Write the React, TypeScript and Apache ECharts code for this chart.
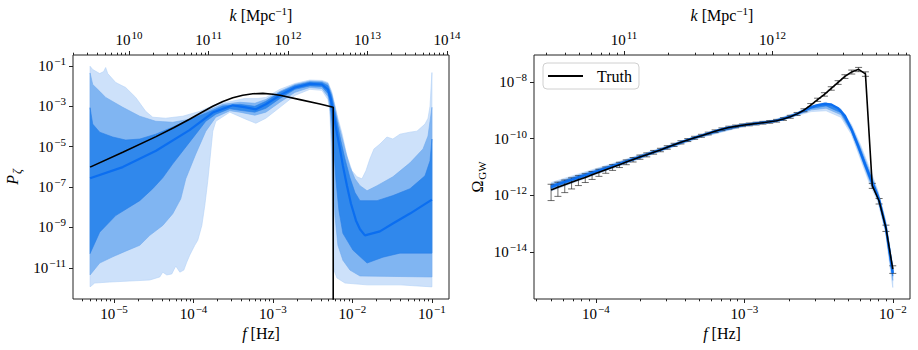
import React, { useEffect, useRef } from 'react';
import * as echarts from 'echarts';

// ================= DATA (all values stored as log10) =================
// k [Mpc^-1] = 6.46e14 * f [Hz]  ->  log10 k = log10 f + 14.81
const LOG_K_PER_F = 14.81;

// ---- Left panel: P_zeta(f) ----
const leftTruthLogF = [-5.301, -4.89, -4.471, -4.25, -4.05, -3.9, -3.757, -3.63, -3.505, -3.38, -3.253, -3.127, -3.0, -2.913, -2.661, -2.409, -2.242, -2.242];
// last value: spectrum drops to zero (off the bottom of the log axis)
const leftTruthLogP = [-6.01, -5.27, -4.5, -4.06, -3.64, -3.31, -3.0, -2.76, -2.58, -2.45, -2.38, -2.36, -2.4, -2.45, -2.67, -2.89, -3.05, -14];

const leftMedianLogF = [-5.301, -4.89, -4.471, -4.05, -3.757, -3.505, -3.341, -3.215, -3.089, -2.913, -2.724, -2.535, -2.384, -2.309, -2.271, -2.233, -2.195, -2.157, -2.12, -2.069, -2.019, -1.956, -1.905, -1.843, -1.654, -1.491, -1.276, -1.0];
const leftMedianLogP = [-6.56, -6.01, -5.2, -4.18, -3.31, -2.95, -3.05, -3.15, -2.9, -2.46, -2.07, -1.89, -1.92, -2.16, -2.66, -3.49, -4.33, -5.11, -5.95, -6.93, -7.81, -8.65, -9.09, -9.39, -9.19, -8.8, -8.31, -7.62];

// 99.7% band
const leftBand3Upper = [[-5.301, -1.02], [-5.268, -1.18], [-5.18, -1.38], [-5.13, -1.28], [-5.105, -1.08], [-5.079, -1.38], [-4.979, -1.82], [-4.853, -2.07], [-4.727, -2.56], [-4.601, -3.25], [-4.513, -3.54], [-4.349, -3.59], [-4.135, -3.49], [-3.921, -3.25], [-3.719, -2.9], [-3.505, -2.74], [-3.354, -2.61], [-3.19, -2.61], [-3.089, -2.56], [-2.913, -2.16], [-2.724, -1.87], [-2.535, -1.7], [-2.384, -1.72], [-2.309, -1.82], [-2.262, -2.26], [-2.22, -2.95], [-2.183, -3.59], [-2.132, -4.33], [-2.069, -5.46], [-2.006, -6.19], [-1.943, -6.49], [-1.88, -6.59], [-1.83, -6.19], [-1.78, -5.6], [-1.729, -5.11], [-1.654, -4.87], [-1.566, -4.52], [-1.491, -4.62], [-1.402, -4.38], [-1.276, -4.28], [-1.188, -4.23], [-1.087, -3.88], [-1.049, -3.59], [-1.024, -3.0], [-1.0, -1.33]];
const leftBand3Lower = [[-5.301, -11.94], [-5.243, -11.75], [-5.054, -11.7], [-4.802, -11.65], [-4.55, -11.6], [-4.424, -11.45], [-4.387, -11.21], [-4.336, -11.35], [-4.273, -11.3], [-4.223, -10.91], [-4.172, -11.21], [-4.122, -11.11], [-4.084, -10.71], [-4.047, -10.37], [-3.984, -9.88], [-3.946, -9.63], [-3.895, -8.9], [-3.858, -7.91], [-3.82, -6.69], [-3.782, -5.21], [-3.757, -4.23], [-3.719, -3.74], [-3.543, -3.29], [-3.341, -3.64], [-3.215, -3.84], [-3.089, -3.59], [-2.913, -3.05], [-2.724, -2.46], [-2.535, -2.16], [-2.384, -2.21], [-2.309, -2.66], [-2.284, -3.25], [-2.264, -5.21], [-2.252, -8.65], [-2.233, -11.11], [-2.195, -11.5], [-2.094, -11.75], [-1.816, -11.84], [-1.402, -11.84], [-1.0, -11.94]];

// 95% band
const leftBand2Upper = [[-5.301, -1.35], [-5.268, -1.92], [-5.18, -2.26], [-5.105, -2.56], [-4.89, -3.05], [-4.676, -3.49], [-4.475, -3.74], [-4.261, -3.79], [-4.047, -3.64], [-3.845, -3.25], [-3.631, -2.9], [-3.417, -2.8], [-3.228, -2.85], [-3.089, -2.66], [-2.913, -2.26], [-2.724, -1.92], [-2.535, -1.75], [-2.384, -1.77], [-2.309, -1.87], [-2.262, -2.36], [-2.22, -3.05], [-2.183, -3.74], [-2.132, -4.52], [-2.082, -5.31], [-2.031, -6.0], [-1.968, -6.59], [-1.905, -6.93], [-1.816, -7.18], [-1.69, -6.93], [-1.491, -6.49], [-1.276, -5.8], [-1.112, -5.11], [-1.049, -4.47], [-1.0, -3.05]];
const leftBand2Lower = [[-5.301, -11.35], [-5.18, -10.76], [-5.016, -10.45], [-4.853, -10.17], [-4.676, -9.88], [-4.55, -9.39], [-4.387, -8.9], [-4.261, -8.32], [-4.16, -7.58], [-4.097, -6.59], [-3.971, -5.36], [-3.845, -4.23], [-3.719, -3.54], [-3.543, -3.22], [-3.417, -3.29], [-3.228, -3.44], [-3.089, -3.29], [-2.913, -2.8], [-2.724, -2.31], [-2.535, -2.07], [-2.384, -2.12], [-2.309, -2.51], [-2.284, -3.0], [-2.258, -4.72], [-2.239, -6.69], [-2.22, -8.41], [-2.183, -9.88], [-2.12, -10.62], [-2.031, -11.11], [-1.905, -11.4], [-1.0, -11.45]];

// 68% band
const leftBand1Upper = [[-5.301, -3.07], [-5.268, -3.88], [-5.18, -4.28], [-5.016, -4.52], [-4.853, -4.67], [-4.676, -4.62], [-4.475, -4.38], [-4.261, -4.03], [-4.047, -3.64], [-3.845, -3.34], [-3.631, -2.98], [-3.417, -2.9], [-3.228, -3.0], [-3.089, -2.75], [-2.913, -2.31], [-2.724, -1.97], [-2.535, -1.8], [-2.384, -1.82], [-2.309, -1.97], [-2.262, -2.46], [-2.22, -3.25], [-2.183, -3.98], [-2.145, -4.72], [-2.094, -5.6], [-2.031, -6.54], [-1.968, -7.27], [-1.905, -7.67], [-1.69, -7.67], [-1.491, -7.42], [-1.276, -7.08], [-1.087, -6.44], [-1.024, -5.7], [-1.0, -4.62]];
const leftBand1Lower = [[-5.301, -10.29], [-5.18, -9.23], [-4.979, -8.41], [-4.676, -7.67], [-4.513, -7.08], [-4.387, -6.54], [-4.261, -5.85], [-4.135, -5.21], [-3.971, -4.38], [-3.845, -3.74], [-3.719, -3.39], [-3.543, -3.12], [-3.417, -3.2], [-3.228, -3.29], [-3.089, -3.1], [-2.913, -2.61], [-2.724, -2.16], [-2.535, -1.99], [-2.384, -2.02], [-2.309, -2.36], [-2.284, -2.75], [-2.258, -3.74], [-2.233, -5.21], [-2.207, -6.69], [-2.17, -8.16], [-2.12, -9.29], [-1.994, -10.12], [-1.816, -10.76], [-1.616, -10.47], [-1.402, -10.27], [-1.0, -10.27]];

// ---- Right panel: Omega_GW(f) ----
const rightLogF = [-4.301, -4.255, -4.209, -4.163, -4.117, -4.071, -4.025, -3.979, -3.933, -3.887, -3.841, -3.795, -3.749, -3.703, -3.657, -3.611, -3.565, -3.519, -3.473, -3.427, -3.381, -3.335, -3.289, -3.243, -3.197, -3.151, -3.105, -3.059, -3.013, -2.967, -2.921, -2.875, -2.829, -2.783, -2.737, -2.691, -2.645, -2.599, -2.553, -2.507, -2.461, -2.415, -2.369, -2.323, -2.277, -2.231, -2.185, -2.139, -2.093, -2.047, -2.001];
const rightTruthLogOmega = [-11.81, -11.72, -11.63, -11.54, -11.45, -11.37, -11.28, -11.19, -11.1, -11.01, -10.92, -10.83, -10.74, -10.65, -10.57, -10.48, -10.4, -10.31, -10.22, -10.13, -10.05, -9.97, -9.9, -9.82, -9.74, -9.67, -9.61, -9.57, -9.53, -9.5, -9.47, -9.44, -9.41, -9.37, -9.31, -9.23, -9.13, -9.0, -8.82, -8.63, -8.44, -8.23, -8.02, -7.81, -7.65, -7.56, -7.72, -11.66, -12.2, -13.15, -14.6];
// relative 1-sigma error of each mock data point
const rightErrRel = [0.58, 0.52, 0.47, 0.42, 0.38, 0.34, 0.31, 0.28, 0.25, 0.23, 0.21, 0.19, 0.18, 0.17, 0.16, 0.15, 0.14, 0.14, 0.13, 0.13, 0.12, 0.12, 0.12, 0.11, 0.11, 0.11, 0.11, 0.11, 0.11, 0.11, 0.11, 0.11, 0.11, 0.11, 0.11, 0.12, 0.12, 0.12, 0.13, 0.13, 0.14, 0.14, 0.15, 0.15, 0.16, 0.17, 0.18, 0.2, 0.22, 0.25, 0.3];
const rightMedianLogOmega = [-11.7, -11.61, -11.53, -11.45, -11.37, -11.29, -11.21, -11.13, -11.05, -10.97, -10.89, -10.81, -10.73, -10.65, -10.57, -10.48, -10.4, -10.31, -10.22, -10.13, -10.05, -9.97, -9.9, -9.82, -9.74, -9.67, -9.61, -9.57, -9.53, -9.5, -9.47, -9.44, -9.41, -9.37, -9.31, -9.23, -9.13, -9.01, -8.9, -8.82, -8.78, -8.8, -8.93, -9.2, -9.7, -10.3, -10.95, -11.55, -12.15, -13.15, -14.75];

const rightBandLogF = [-4.301, -4.1, -3.9, -3.6, -3.3, -3.0, -2.8, -2.65, -2.55, -2.45, -2.35, -2.28, -2.22, -2.16, -2.1, -2.05, -2.001];
const rightBand3Upper = [-11.55, -11.22, -10.9, -10.4, -9.87, -9.47, -9.34, -9.09, -8.84, -8.72, -8.95, -9.5, -10.2, -11.0, -11.85, -12.85, -14.45];
const rightBand3Lower = [-11.85, -11.46, -11.08, -10.52, -9.97, -9.57, -9.43, -9.2, -9.05, -9.02, -9.25, -9.85, -10.7, -11.55, -12.25, -13.3, -15.25];
const rightBand2Upper = [-11.6, -11.26, -10.93, -10.42, -9.89, -9.49, -9.36, -9.11, -8.86, -8.74, -8.98, -9.56, -10.29, -11.1, -11.92, -12.93, -14.55];
const rightBand2Lower = [-11.8, -11.42, -11.05, -10.5, -9.95, -9.55, -9.41, -9.18, -8.99, -8.93, -9.16, -9.77, -10.6, -11.45, -12.17, -13.22, -15.0];
const rightBand1Upper = [-11.65, -11.3, -10.96, -10.44, -9.91, -9.51, -9.37, -9.12, -8.88, -8.76, -9.0, -9.62, -10.38, -11.2, -11.99, -13.0, -14.65];
const rightBand1Lower = [-11.75, -11.38, -11.02, -10.48, -9.93, -9.53, -9.39, -9.16, -8.94, -8.85, -9.09, -9.72, -10.52, -11.38, -12.11, -13.15, -14.85];

const leftXTicks = [-5, -4, -3, -2, -1];
const leftKTicks = [10, 11, 12, 13, 14];
const leftYTicks = [-11, -9, -7, -5, -3, -1];
const rightXTicks = [-4, -3, -2];
const rightKTicks = [11, 12];
const rightYTicks = [-14, -12, -10, -8];

// ================= STYLE =================
const FONT = "'Liberation Serif', 'DejaVu Serif', serif";
const C_LIGHT = '#cde1fa';
const C_MID = '#80b5f2';
const C_DARK = '#3088ec';
const C_MEDIAN = '#0b6ef0';

const LEFT_X: [number, number] = [-5.516, -0.785];
const LEFT_Y: [number, number] = [-12.54, -0.46];
const RIGHT_X: [number, number] = [-4.416, -1.885];
const RIGHT_Y: [number, number] = [-15.657, -7.054];

function expLabel(v: number) {
  const e = Math.round(v);
  const s = e < 0 ? '\u2212' + Math.abs(e) : String(e);
  return `{b|10}{s|${s}}`;
}
const tickRich = {
  b: { fontFamily: FONT, fontSize: 15, color: '#000' },
  s: { fontFamily: FONT, fontSize: 11, color: '#000', padding: [0, 0, 10, 1] },
};
const nameRich = {
  i: { fontFamily: FONT, fontSize: 16, fontStyle: 'italic', color: '#000', padding: [0, 4, 0, 0] },
  n: { fontFamily: FONT, fontSize: 16, color: '#000' },
  s: { fontFamily: FONT, fontSize: 11, color: '#000', padding: [0, 0, 10, 0] },
  si: { fontFamily: FONT, fontSize: 12, fontStyle: 'italic', color: '#000', padding: [9, 0, 0, 1] },
  sn: { fontFamily: FONT, fontSize: 11, color: '#000', padding: [9, 0, 0, 1] },
  p: { fontFamily: FONT, fontSize: 16, fontStyle: 'italic', color: '#000' },
};

function minorValues(min: number, max: number) {
  const out: number[] = [];
  for (let d = Math.floor(min) - 1; d <= Math.ceil(max); d++) {
    for (let m = 2; m <= 9; m++) {
      const v = d + Math.log10(m);
      if (v > min && v < max) out.push(v);
    }
  }
  return out;
}

function xAxes(gridIndex: number, ext: [number, number], majors: number[], kMajors: number[], fName: string, kName: string) {
  const kExt: [number, number] = [ext[0] + LOG_K_PER_F, ext[1] + LOG_K_PER_F];
  const tickLine = { color: '#222', width: 1 };
  const base = { type: 'value', gridIndex, splitLine: { show: false }, axisLine: { show: false } };
  return [
    {
      ...base, position: 'bottom', min: ext[0], max: ext[1],
      axisTick: { show: true, length: 4, lineStyle: tickLine, customValues: majors },
      axisLabel: { customValues: majors, formatter: expLabel, rich: tickRich, margin: 4 },
      name: fName, nameLocation: 'middle', nameGap: 26, nameTextStyle: { rich: nameRich },
    },
    {
      ...base, position: 'bottom', min: ext[0], max: ext[1],
      axisTick: { show: true, length: 2.3, lineStyle: tickLine, customValues: minorValues(ext[0], ext[1]) },
      axisLabel: { show: false },
    },
    {
      ...base, position: 'top', min: kExt[0], max: kExt[1],
      axisTick: { show: true, length: 4, lineStyle: tickLine, customValues: kMajors },
      axisLabel: { customValues: kMajors, formatter: expLabel, rich: tickRich, margin: 5 },
      name: kName, nameLocation: 'middle', nameGap: 29, nameTextStyle: { rich: nameRich },
    },
    {
      ...base, position: 'top', min: kExt[0], max: kExt[1],
      axisTick: { show: true, length: 2.3, lineStyle: tickLine, customValues: minorValues(kExt[0], kExt[1]) },
      axisLabel: { show: false },
    },
  ];
}

function yAxis(gridIndex: number, ext: [number, number], majors: number[], name: string, gap: number) {
  return {
    type: 'value', gridIndex, position: 'left', min: ext[0], max: ext[1],
    splitLine: { show: false }, axisLine: { show: false },
    axisTick: { show: true, length: 4, lineStyle: { color: '#222', width: 1 }, customValues: majors },
    axisLabel: { customValues: majors, formatter: expLabel, rich: tickRich, margin: 7 },
    name, nameLocation: 'middle', nameGap: gap, nameTextStyle: { rich: nameRich },
  };
}

function bandSeries(xi: number, yi: number, upper: number[][], lower: number[][], fill: string, stroke: string) {
  return {
    type: 'custom', xAxisIndex: xi, yAxisIndex: yi, silent: true,
    data: [[upper[0][0], upper[0][1]]],
    renderItem: (_params: any, api: any) => {
      const pts = upper.map((p) => api.coord(p)).concat(lower.slice().reverse().map((p) => api.coord(p)));
      return { type: 'polygon', shape: { points: pts }, style: { fill, stroke, lineWidth: 0.6 } };
    },
  };
}

const zip = (xs: number[], ys: number[]) => xs.map((x, i) => [x, ys[i]]);

export default function App() {
  const ref = useRef<HTMLDivElement>(null);
  useEffect(() => {
    if (!ref.current) return;
    const chart = echarts.init(ref.current, undefined, { renderer: 'svg' });

    const errData = rightLogF.map((x, i) => [
      x,
      rightTruthLogOmega[i] + Math.log10(1 - rightErrRel[i]),
      rightTruthLogOmega[i] + Math.log10(1 + rightErrRel[i]),
    ]);

    const fName = '{i|f}{n|[Hz]}';
    const kName = '{i|k}{n|[Mpc}{s|\u22121}{n|]}';

    const option: any = {
      animation: false,
      backgroundColor: '#fff',
      textStyle: { fontFamily: FONT },
      grid: [
        { left: 73, top: 53, width: 376, height: 246, show: true, borderColor: '#222', borderWidth: 1, backgroundColor: 'transparent' },
        { left: 534, top: 53, width: 376, height: 246, show: true, borderColor: '#222', borderWidth: 1, backgroundColor: 'transparent' },
      ],
      xAxis: [
        ...xAxes(0, LEFT_X, leftXTicks, leftKTicks, fName, kName),
        ...xAxes(1, RIGHT_X, rightXTicks, rightKTicks, fName, kName),
      ],
      yAxis: [
        yAxis(0, LEFT_Y, leftYTicks, '{p|P}{si|\u03B6}', 50),
        yAxis(1, RIGHT_Y, rightYTicks, '{n|\u03A9}{sn|GW}', 47),
      ],
      legend: {
        data: ['Truth'], left: 543, top: 63, icon: 'rect', itemWidth: 35, itemHeight: 2,
        textStyle: { fontFamily: FONT, fontSize: 16, color: '#000', padding: [0, 0, 0, 9] },
        backgroundColor: '#fff', borderColor: '#d0d0d0', borderWidth: 1, borderRadius: 4,
        padding: [5, 7, 5, 5], selectedMode: false,
      },
      series: [
        bandSeries(0, 0, leftBand3Upper, leftBand3Lower, C_LIGHT, '#b3d2f7'),
        bandSeries(0, 0, leftBand2Upper, leftBand2Lower, C_MID, '#6ea9ef'),
        bandSeries(0, 0, leftBand1Upper, leftBand1Lower, C_DARK, '#2a80e8'),
        {
          name: 'Median P', type: 'line', xAxisIndex: 0, yAxisIndex: 0, data: zip(leftMedianLogF, leftMedianLogP),
          showSymbol: false, symbol: 'none', lineStyle: { color: C_MEDIAN, width: 2.2 }, silent: true,
        },
        {
          name: 'Truth P', type: 'line', xAxisIndex: 0, yAxisIndex: 0, data: zip(leftTruthLogF, leftTruthLogP),
          showSymbol: false, symbol: 'none', clip: true, lineStyle: { color: '#000', width: 1.6 }, silent: true,
        },
        bandSeries(4, 1, zip(rightBandLogF, rightBand3Upper), zip(rightBandLogF, rightBand3Lower), C_LIGHT, '#b3d2f7'),
        bandSeries(4, 1, zip(rightBandLogF, rightBand2Upper), zip(rightBandLogF, rightBand2Lower), C_MID, '#6ea9ef'),
        bandSeries(4, 1, zip(rightBandLogF, rightBand1Upper), zip(rightBandLogF, rightBand1Lower), C_DARK, '#2a80e8'),
        {
          name: 'Median Omega', type: 'line', xAxisIndex: 4, yAxisIndex: 1, data: zip(rightLogF, rightMedianLogOmega),
          showSymbol: false, symbol: 'none', lineStyle: { color: C_MEDIAN, width: 2.4 }, silent: true,
        },
        {
          name: 'Data', type: 'custom', xAxisIndex: 4, yAxisIndex: 1, silent: true, data: errData,
          encode: { x: 0, y: [1, 2] },
          renderItem: (_params: any, api: any) => {
            const x = api.value(0);
            const lo = api.coord([x, api.value(1)]);
            const hi = api.coord([x, api.value(2)]);
            const w = 3.5;
            const st = { stroke: 'rgba(30,30,30,0.65)', lineWidth: 1 };
            return {
              type: 'group',
              children: [
                { type: 'line', shape: { x1: lo[0], y1: lo[1], x2: hi[0], y2: hi[1] }, style: st },
                { type: 'line', shape: { x1: lo[0] - w, y1: lo[1], x2: lo[0] + w, y2: lo[1] }, style: st },
                { type: 'line', shape: { x1: hi[0] - w, y1: hi[1], x2: hi[0] + w, y2: hi[1] }, style: st },
              ],
            };
          },
        },
        {
          name: 'Truth', type: 'line', xAxisIndex: 4, yAxisIndex: 1, data: zip(rightLogF, rightTruthLogOmega),
          showSymbol: false, symbol: 'none', lineStyle: { color: '#000', width: 1.6 }, itemStyle: { color: '#000' }, silent: true,
        },
      ],
    };
    chart.setOption(option);
    return () => chart.dispose();
  }, []);
  return <div ref={ref} style={{ position: 'absolute', left: 0, top: 0, width: 918, height: 350 }} />;
}
